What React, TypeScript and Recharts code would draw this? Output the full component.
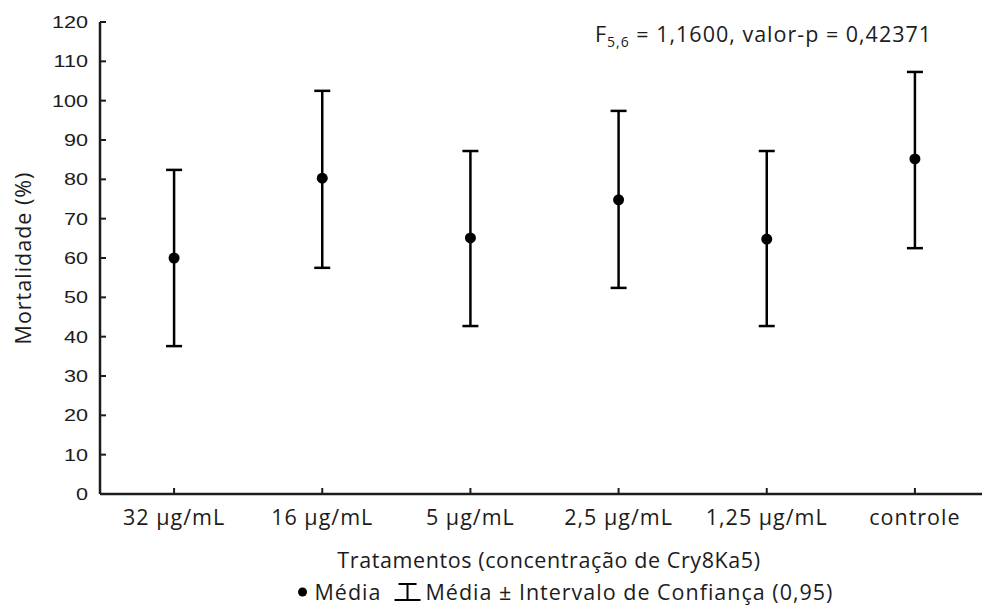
import { ScatterChart, Scatter, XAxis, YAxis, ErrorBar } from "recharts";

const categories = ["32 µg/mL", "16 µg/mL", "5 µg/mL", "2,5 µg/mL", "1,25 µg/mL", "controle"];
const means = [60.0, 80.3, 65.1, 74.8, 64.8, 85.2];
const lower = [37.6, 57.5, 42.7, 52.4, 42.7, 62.5];
const upper = [82.4, 102.5, 87.2, 97.4, 87.2, 107.3];
const yTicks = [0, 10, 20, 30, 40, 50, 60, 70, 80, 90, 100, 110, 120];

const data = categories.map((name, i) => ({
  name,
  mean: means[i],
  err: [means[i] - lower[i], upper[i] - means[i]],
}));

const sans = "'Open Sans', 'Noto Sans', sans-serif";
const ink = "#1c1c1c";
const X_MARGIN = 12;
const Y_MARGIN = 12;

const Dot = (props: any) => <circle cx={props.cx} cy={props.cy} r={5.5} fill="#000" />;

// ticks point into the plot, labels stay outside
const XTick = (props: any) => {
  const { x, y, payload } = props;
  const axisY = y - X_MARGIN;
  return (
    <g>
      <line x1={x} y1={axisY} x2={x} y2={axisY - 6} stroke={ink} strokeWidth={2} />
      <text x={x} y={axisY + 31} textAnchor="middle" fill={ink} fontSize={21.5} fontFamily={sans} letterSpacing={1}>
        {payload.value}
      </text>
    </g>
  );
};

const YTick = (props: any) => {
  const { x, y, payload } = props;
  const axisX = x + Y_MARGIN;
  return (
    <g>
      <line x1={axisX} y1={y} x2={axisX + 6} y2={y} stroke={ink} strokeWidth={2} />
      <text
        transform={`translate(${axisX - 12}, ${y + 6}) scale(1.27, 1)`}
        textAnchor="end"
        fill={ink}
        fontSize={17}
        fontFamily="'Liberation Sans', Arial, sans-serif"
      >
        {payload.value}
      </text>
    </g>
  );
};

export default function App() {
  return (
    <div style={{ position: "absolute", left: 0, top: 0, width: 982, height: 611, overflow: "hidden", background: "#fff" }}>
      <ScatterChart width={990} height={611} margin={{ top: 22, right: 1, left: 0, bottom: 87 }}>
        <XAxis
          dataKey="name"
          type="category"
          allowDuplicatedCategory={false}
          stroke={ink}
          strokeWidth={2.5}
          tickLine={false}
          tickSize={0}
          tickMargin={X_MARGIN}
          height={30}
          tick={<XTick />}
        />
        <YAxis
          type="number"
          domain={[0, 120]}
          ticks={yTicks}
          interval={0}
          width={100}
          stroke={ink}
          strokeWidth={2.5}
          tickLine={false}
          tickSize={0}
          tickMargin={Y_MARGIN}
          tick={<YTick />}
        />
        <Scatter data={data} dataKey="mean" shape={Dot} isAnimationActive={false}>
          <ErrorBar dataKey="err" direction="y" width={8} strokeWidth={2.5} stroke="#000" isAnimationActive={false} />
        </Scatter>
      </ScatterChart>

      <div style={{ position: "absolute", left: 595, top: 19, fontFamily: sans, fontSize: 21.5, letterSpacing: 1, color: ink, whiteSpace: "nowrap" }}>
        F<sub style={{ fontSize: 14 }}>5,6</sub> = 1,1600, valor-p = 0,42371
      </div>

      <div
        style={{
          position: "absolute",
          left: 22,
          top: 258,
          transform: "translate(-50%, -50%) rotate(-90deg)",
          fontFamily: sans,
          fontSize: 21.5,
          letterSpacing: 1,
          color: ink,
          whiteSpace: "nowrap",
        }}
      >
        Mortalidade (%)
      </div>

      <div
        style={{
          position: "absolute",
          left: 549,
          top: 545,
          transform: "translateX(-50%)",
          fontFamily: sans,
          fontSize: 21.5,
          letterSpacing: 0.6,
          color: ink,
          whiteSpace: "nowrap",
        }}
      >
        Tratamentos (concentração de Cry8Ka5)
      </div>

      <div
        style={{
          position: "absolute",
          left: 565,
          top: 577,
          transform: "translateX(-50%)",
          fontFamily: sans,
          fontSize: 21.5,
          letterSpacing: 1,
          color: ink,
          whiteSpace: "nowrap",
          display: "flex",
          alignItems: "center",
        }}
      >
        <svg width={12} height={12} style={{ marginRight: 6 }}>
          <circle cx={6} cy={6} r={4.5} fill="#000" />
        </svg>
        <span>Média</span>
        <svg width={28} height={20} style={{ margin: "0 4px 0 12px" }}>
          <line x1={5} y1={2} x2={23} y2={2} stroke="#000" strokeWidth={2} />
          <line x1={14} y1={2} x2={14} y2={18} stroke="#000" strokeWidth={2} />
          <line x1={1} y1={18} x2={27} y2={18} stroke="#000" strokeWidth={2} />
        </svg>
        <span>Média ± Intervalo de Confiança (0,95)</span>
      </div>
    </div>
  );
}
